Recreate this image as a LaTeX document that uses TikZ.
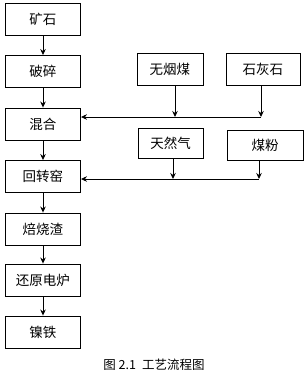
\documentclass[tikz,border=0pt]{standalone}
\usepackage{fontspec}
\newfontfamily\cjk{Noto Sans CJK SC}
\usetikzlibrary{arrows.meta, positioning, calc}

\begin{document}
\begin{tikzpicture}[
    every node/.style={font=\cjk\fontsize{13.5}{13.5}\selectfont},
    % pixel coordinates: origin top left, y grows downwards
    x=1pt, y=-1pt,
]

\tikzset{
    stepbox/.style={draw, line width=0.9pt, minimum width=75pt,
                    minimum height=32pt, inner sep=0pt},
    feedbox/.style={draw, line width=0.9pt, minimum height=32pt,
                    inner sep=0pt},
    arr/.style={-{Stealth[length=6pt, width=5.5pt]}, line width=0.9pt},
}

\useasboundingbox (0, 0) rectangle (306, 376);

% ---------------------------------------------------------------- main line
\foreach \n/\y/\lab in {ore/19.5/矿石, crush/71.5/破碎, mix/124/混合,
                        kiln/176.5/回转窑, calc/229/焙烧渣,
                        furnace/280/还原电炉, feni/332/镍铁} {
    \node[stepbox] (\n) at (43, \y) {\lab};
}
\foreach \a/\b in {ore/crush, crush/mix, mix/kiln, kiln/calc,
                   calc/furnace, furnace/feni} {
    \draw[arr] (\a) -- (\b);
}

% ---------------------------------------------------------------- to the mixer
\node[feedbox, minimum width=66pt] (coal) at (170, 69) {无烟煤};
\node[feedbox, minimum width=74pt] (lime) at (263, 69) {石灰石};
\coordinate (j1) at (261, 117);
\coordinate (j2) at (175, 117);
\draw[arr] (coal.south -| j2) -- (j2);
\draw[arr] (lime.south -| j1) -- (j1);
\draw[arr] (j1) -- (mix.east |- j1);

% ---------------------------------------------------------------- to the kiln
\node[feedbox, minimum width=65pt, minimum height=30pt] (gas) at (170.5, 143) {天然气};
\node[feedbox, minimum width=76pt, minimum height=30pt] (powder) at (265, 145) {煤粉};
\coordinate (j3) at (259, 179);
\coordinate (j4) at (173, 179);
\draw[arr] (gas.south -| j4) -- (j4);
\draw[arr] (powder.south -| j3) -- (j3);
\draw[arr] (j3) -- (kiln.east |- j3);

% ---------------------------------------------------------------- caption
\node[font=\cjk\fontsize{12.5}{12.5}\selectfont] (cap) at (154, 365) {图 2.1\hspace{6pt}工艺流程图};

\end{tikzpicture}
\end{document}
